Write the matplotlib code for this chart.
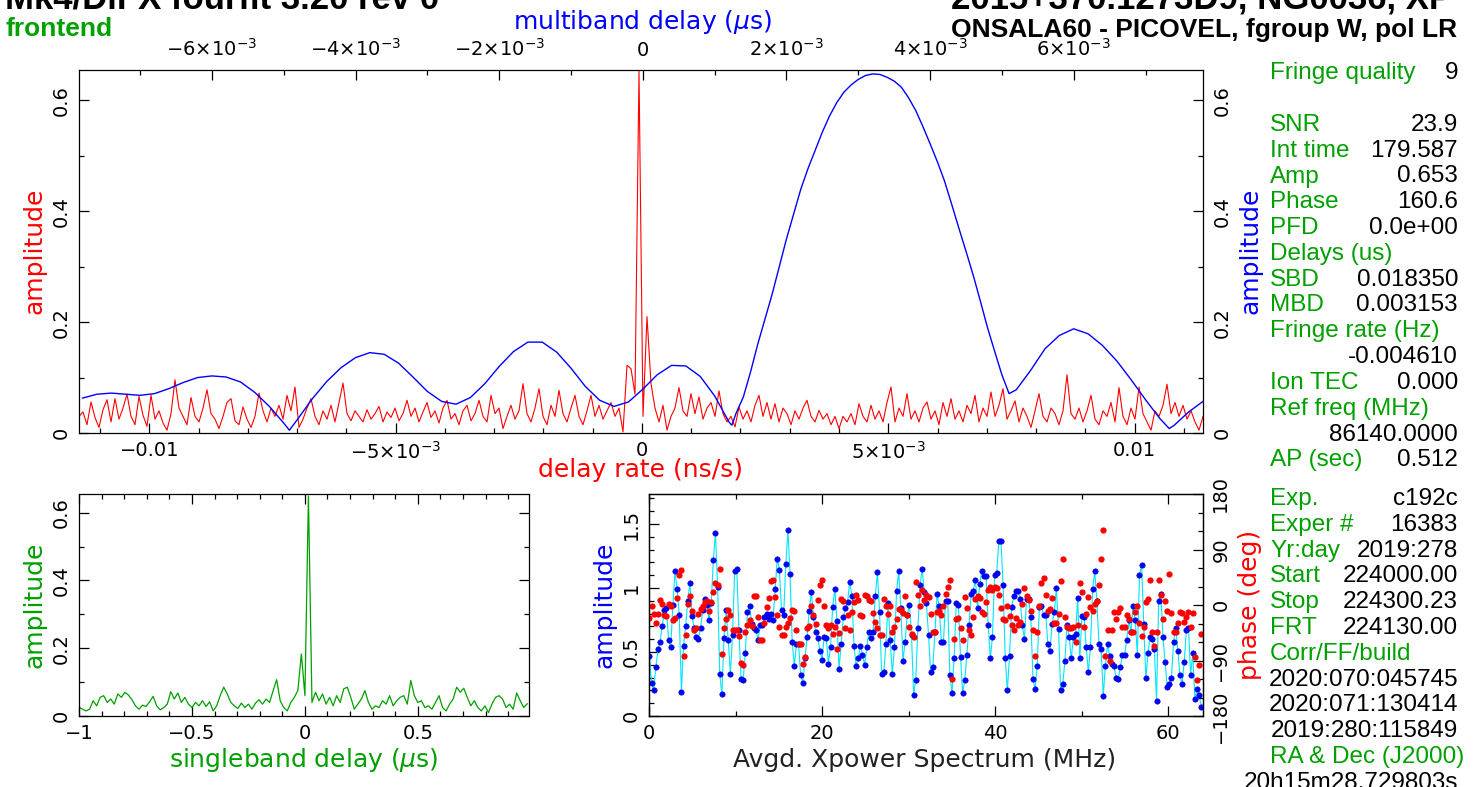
import numpy as np
import matplotlib
matplotlib.use('Agg')
import matplotlib.pyplot as plt
from matplotlib.ticker import MultipleLocator

W, H = 1478, 787
GREEN = '#00a000'
MINUS = '\u2212'

# ---------------- data ----------------
# delay-rate spectrum (red), amplitude x 1000, evenly sampled over the axis
rate_lim = (-0.01143, 0.01139)
rate_amp_milli = [
    30, 38, 15, 56, 28, 10, 42, 60, 20, 62,
    25, 45, 70, 30, 15, 66, 32, 12, 68, 25,
    40, 18, 5, 35, 96, 45, 30, 15, 64, 30,
    20, 45, 78, 35, 25, 8, 30, 55, 62, 22,
    15, 47, 25, 10, 30, 72, 40, 20, 45, 30,
    50, 25, 68, 40, 83, 10, 25, 45, 62, 30,
    15, 40, 25, 50, 20, 55, 90, 35, 22, 40,
    30, 20, 42, 25, 35, 48, 20, 38, 28, 45,
    22, 35, 59, 30, 45, 20, 38, 55, 28, 40,
    18, 45, 59, 25, 35, 15, 40, 50, 22, 35,
    59, 30, 20, 68, 35, 45, 8, 30, 50, 25,
    40, 89, 35, 20, 45, 80, 30, 15, 50, 30,
    77, 35, 20, 45, 68, 30, 15, 40, 68, 30,
    50, 25, 40, 55, 30, 45, 2, 122, 116, 70,
    653, 30, 210, 89, 45, 20, 50, 5, 30, 45,
    82, 40, 30, 71, 35, 65, 25, 45, 55, 30,
    76, 35, 20, 30, 11, 47, 25, 40, 20, 50,
    68, 30, 55, 25, 53, 20, 45, 35, 15, 40,
    25, 45, 59, 30, 20, 41, 25, 35, 15, 30,
    8, 30, 20, 35, 15, 53, 30, 20, 50, 25,
    40, 20, 55, 83, 20, 45, 30, 71, 25, 40,
    20, 45, 56, 25, 40, 15, 55, 30, 62, 25,
    40, 20, 50, 35, 68, 20, 45, 30, 74, 30,
    50, 80, 25, 40, 58, 20, 45, 30, 10, 40,
    71, 30, 20, 45, 35, 15, 40, 105, 35, 25,
    45, 20, 40, 68, 25, 15, 40, 30, 55, 20,
    82, 30, 15, 45, 25, 83, 35, 20, 5, 40,
    30, 50, 88, 35, 55, 30, 50, 25, 40, 20,
    5, 30,
]

# multiband delay function (blue): delay in 1e-4 us, amplitude x 1000
mbd_lim = (-0.00785, 0.00780)
mbd_delay_e4 = [
    -78, -76, -74, -72, -70, -68, -66, -64, -62, -60,
    -58, -56, -54, -52, -50, -49.2, -48, -46, -44, -42,
    -40, -38, -36, -34, -32, -30, -28, -26, -24, -22,
    -20, -18, -16, -14, -12, -10, -8, -6, -4, -2,
    0, 2, 4, 6, 8, 10, 12, 12.4, 13, 14,
    15, 16, 17, 18, 19, 20, 21, 22, 23, 24,
    25, 26, 27, 28, 29, 30, 31, 32, 33, 34,
    35, 36, 37, 38, 39, 40, 41, 42, 43, 44,
    45, 46, 47, 48, 49, 50, 51, 52, 54, 56,
    58, 60, 62, 64, 66, 68, 70, 72, 73.3, 74,
    76, 78,
]
mbd_amp_milli = [
    63, 70, 72, 70, 68, 71, 80, 91, 100, 103,
    101, 92, 73, 48, 18, 5, 26, 62, 93, 118,
    136, 145, 142, 126, 101, 75, 57, 52, 64, 89,
    120, 147, 164, 164, 146, 117, 84, 59, 48, 56,
    79, 105, 122, 121, 102, 67, 20, 14, 36, 65,
    110, 160, 205, 250, 300, 350, 395, 440, 477, 510,
    543, 572, 596, 615, 628, 638, 645, 648, 647, 642,
    635, 624, 605, 582, 553, 522, 490, 455, 413, 370,
    328, 285, 238, 190, 147, 105, 71, 78, 113, 152,
    176, 188, 179, 158, 130, 96, 60, 26, 8, 14,
    38, 57,
]

# singleband delay function (green), amplitude x 1000, step 1/64 us from -1
sbd_amp_milli = [
    26, 20, 15, 20, 45, 30, 55, 60, 40, 50,
    35, 65, 55, 70, 62, 48, 30, 20, 32, 28,
    42, 58, 30, 18, 25, 35, 72, 50, 68, 40,
    55, 35, 25, 40, 30, 45, 28, 42, 15, 30,
    60, 85, 65, 40, 30, 22, 38, 25, 35, 20,
    38, 48, 35, 50, 40, 75, 107, 45, 25, 15,
    40, 55, 75, 183, 60, 649, 40, 70, 45, 65,
    35, 55, 30, 60, 40, 80, 85, 55, 20, 35,
    50, 75, 40, 20, 30, 25, 45, 35, 60, 30,
    45, 55, 60, 35, 105, 60, 40, 45, 25, 30,
    20, 40, 60, 25, 15, 35, 50, 85, 70, 82,
    55, 30, 45, 25, 15, 30, 10, 35, 55, 60,
    50, 25, 35, 20, 68, 45, 25, 36,
]

# averaged cross-power spectrum: amplitude (blue) and phase in deg (red)
xp_freq_range = (0.05, 63.8)
xp_amp = [
    0.465, 0.26, 0.20, 0.38, 0.52, 0.58, 0.70, 0.825, 0.84, 0.59,
    0.54, 0.865, 1.13, 0.99, 0.79, 0.19, 0.55, 0.70, 0.90, 1.04,
    0.78, 0.69, 0.62, 0.60, 0.69, 0.825, 0.91, 0.865, 0.75, 0.88,
    1.22, 1.43, 1.01, 0.33, 0.17, 0.61, 0.825, 0.59, 0.33, 0.63,
    1.13, 1.15, 0.67, 0.29, 0.28, 0.49, 0.81, 0.86, 0.72, 0.69,
    0.67, 0.595, 0.71, 0.71, 0.77, 0.80, 0.76, 0.80, 0.75, 0.995,
    1.23, 1.14, 0.825, 0.79, 1.185, 1.45, 1.11, 0.58, 0.39, 0.56,
    0.56, 0.32, 0.26, 0.45, 0.62, 0.82, 0.97, 0.77, 0.66, 0.61,
    0.51, 0.44, 0.62, 0.61, 0.41, 0.54, 0.85, 0.995, 0.74, 0.37,
    0.56, 0.77, 0.84, 0.89, 1.05, 0.94, 0.55, 0.39, 0.45, 0.55,
    0.48, 0.40, 0.54, 0.66, 0.61, 0.66, 0.935, 1.125, 0.81, 0.33,
    0.34, 0.56, 0.88, 0.59, 0.33, 0.54, 0.98, 1.13, 0.84, 0.43,
    0.58, 0.79, 0.87, 0.63, 0.167, 0.285, 0.69, 1.02, 1.15,
    0.97, 0.88, 0.63, 0.34, 0.38, 0.655, 0.95, 0.86, 0.58, 0.58,
    0.90, 0.90, 0.32, 0.18, 0.45, 0.88, 0.87, 0.46, 0.18, 0.28,
    0.48, 0.71, 0.955, 0.98, 1.065, 0.84, 1.03, 1.13, 1.09, 1.09,
    0.71, 0.45, 0.62, 1.10, 1.12, 1.37, 1.37, 1.02, 0.45, 0.20,
    0.47, 0.85, 0.94, 0.98, 0.98, 0.91, 0.71, 0.60, 0.91, 0.91,
    0.77, 0.29, 0.21, 0.39, 0.85, 0.86, 0.79, 0.79, 0.56, 0.51,
    0.72, 0.81, 1.0, 0.68, 0.20, 0.25, 0.43, 0.71, 0.62, 0.45,
    0.62, 0.64, 0.92, 0.45, 0.78, 0.77, 0.54, 0.34, 0.54, 0.99,
    1.13, 0.90, 0.56, 0.52, 0.16, 0.39, 0.56, 0.47, 0.41, 0.39,
    0.30, 0.29, 0.38, 0.48, 0.48, 0.59, 0.75, 0.66, 0.86, 0.75,
    0.48, 1.10, 1.18, 0.72, 0.295, 0.49, 0.62, 0.60, 0.52, 0.12,
    0.90, 0.95, 0.62, 0.42, 0.23, 0.25, 0.30, 0.58, 0.69, 0.51,
    0.32, 0.25, 0.42, 0.67, 0.69, 0.32, 0.49, 0.13, 0.21, 0.167,
    0.07,
]
xp_phase = [
    -21, -2, -15, -29, -15, 8, 1, -17, -18, 2,
    -1, -25, -21, 11, 48, 57, -82, -48, 2, 14,
    -10, -41, -38, -14, -6, -1, 5, 6, -10, 5,
    21, 35, 33, 59, -79, -38, -22, -8, -17, -40,
    -40, -41, -50, -94, -98, -44, -32, -25, -34, 15,
    15, -20, -57, -57, -29, -3, 11, 39, 41, 13,
    -16, -35, -48, -48, -36, -29, -21, -8, -10, -40,
    -64, -64, -95, -85, -37, -34, -1, -17, -31, 8,
    33, 40, -2, -33, -38, -33, -47, -35, -71, -46,
    10, 6, -38, -17, -40, -11, 5, 17, 8, -17,
    -18, 17, 14, 8, 6, -13, -28, -37, -48, -48,
    10, -1, -14, -2, -44, -36, -22, -6, -8, -13,
    14, -17, -35, -47, -52, 37, 16, -1, 24,
    8, 17, 13, -14, -43, -44, -11, -10, -16, -1,
    18, 29, 41, -120, -55, -22, -21, -37, -56, 13,
    -5, -40, -48, -20, 9, 14, 12, -11, -15, 5,
    25, 29, 24, 29, 27, 16, -5, -22, -24, -1,
    -18, -33, -40, -21, -32, -28, 1, 27, 15, 8,
    -9, -41, -82, -44, -1, 35, 43, 17, -10, -6,
    11, -29, -29, -14, 39, 75, -20, -36, -37, -38,
    -36, -60, -32, 35, 21, -35, -14, 13, -3, -10,
    2, 6, 32, 75, 122, -82, -40, -90, -40, -11,
    -22, -11, -5, -35, -35, -17, -22, -44, -44, -12,
    -1, -29, -50, -36, 5, 9, 40, -44, -67, -44,
    40, 16, -22, 6, -10, 51, -13, -44, -44, -29,
    -11, -13, -28, -20, -11, -35, -13, -85, -122, -98,
    -47,
]

# fringe summary panel
info_rows = [
    ("Fringe quality", "9"), None,
    ("SNR", "23.9"), ("Int time", "179.587"), ("Amp", "0.653"),
    ("Phase", "160.6"), ("PFD", "0.0e+00"), ("Delays (us)", ""),
    ("SBD", "0.018350"), ("MBD", "0.003153"), ("Fringe rate (Hz)", ""),
    ("", "-0.004610"), ("Ion TEC", "0.000"), ("Ref freq (MHz)", ""),
    ("", "86140.0000"), ("AP (sec)", "0.512"), "half",
    ("Exp.", "c192c"), ("Exper #", "16383"), ("Yr:day", "2019:278"),
    ("Start", "224000.00"), ("Stop", "224300.23"), ("FRT", "224130.00"),
    ("Corr/FF/build", ""), ("", "2020:070:045745"), ("", "2020:071:130414"),
    ("", "2019:280:115849"), ("RA & Dec (J2000)", ""), ("", "20h15m28.729803s"),
]


def fx(px):
    return px / W


def fy(py):
    return 1 - py / H


def rect(x0, y0, x1, y1):
    return [fx(x0), fy(y1), (x1 - x0) / W, (y1 - y0) / H]


def style_ticks(ax, **kw):
    ax.tick_params(which='both', direction='in', colors='black',
                   labelsize=14, width=0.9, **kw)
    ax.tick_params(which='major', length=7)
    ax.tick_params(which='minor', length=3.5)
    for s in ax.spines.values():
        s.set_linewidth(0.9)


plt.rcParams['font.family'] = 'DejaVu Sans'
plt.rcParams['mathtext.fontset'] = 'dejavusans'
fig = plt.figure(figsize=(W / 100, H / 100), dpi=100)

# ---------------- top panel: delay rate + multiband delay ----------------
top_rect = rect(79, 70, 1203, 433)
ax_rate = fig.add_axes(top_rect)
rate_x = np.linspace(rate_lim[0], rate_lim[1], len(rate_amp_milli))
ax_rate.plot(rate_x, np.array(rate_amp_milli) / 1000, color='#ff0000', lw=0.8)
ax_rate.set_xlim(*rate_lim)
ax_rate.set_ylim(0, 0.655)
ax_rate.set_xticks([-0.01, -0.005, 0, 0.005, 0.01],
                   [MINUS + '0.01', r'$-5{\times}10^{-3}$', '0',
                    r'$5{\times}10^{-3}$', '0.01'])
ax_rate.xaxis.set_minor_locator(MultipleLocator(0.001))
ax_rate.set_yticks([0, 0.2, 0.4, 0.6], ['0', '0.2', '0.4', '0.6'],
                   rotation=90, va='center')
ax_rate.yaxis.set_minor_locator(MultipleLocator(0.1))
style_ticks(ax_rate, top=False, right=False, pad=6)

ax_mbd = fig.add_axes(top_rect, frameon=False)
ax_mbd.plot(np.array(mbd_delay_e4) * 1e-4, np.array(mbd_amp_milli) / 1000,
            color='#0000ff', lw=1.0)
ax_mbd.set_xlim(*mbd_lim)
ax_mbd.set_ylim(0, 0.655)
ax_mbd.xaxis.tick_top()
ax_mbd.yaxis.tick_right()
ax_mbd.set_xticks([-0.006, -0.004, -0.002, 0, 0.002, 0.004, 0.006],
                  [r'$-6{\times}10^{-3}$', r'$-4{\times}10^{-3}$',
                   r'$-2{\times}10^{-3}$', '0', r'$2{\times}10^{-3}$',
                   r'$4{\times}10^{-3}$', r'$6{\times}10^{-3}$'])
ax_mbd.xaxis.set_minor_locator(MultipleLocator(0.001))
ax_mbd.set_yticks([0, 0.2, 0.4, 0.6], ['0', '0.2', '0.4', '0.6'],
                  rotation=90, va='center')
ax_mbd.yaxis.set_minor_locator(MultipleLocator(0.1))
style_ticks(ax_mbd, bottom=False, left=False, pad=7)

# ---------------- bottom left: singleband delay ----------------
ax_sbd = fig.add_axes(rect(79, 494, 529, 716))
sbd_x = np.arange(len(sbd_amp_milli)) / 64 - 1
ax_sbd.plot(sbd_x, np.array(sbd_amp_milli) / 1000, color=GREEN, lw=0.9)
ax_sbd.set_xlim(-1, 0.992)
ax_sbd.set_ylim(0, 0.655)
ax_sbd.set_xticks([-1, -0.5, 0, 0.5], [MINUS + '1', MINUS + '0.5', '0', '0.5'])
ax_sbd.xaxis.set_minor_locator(MultipleLocator(0.1))
ax_sbd.set_yticks([0, 0.2, 0.4, 0.6], ['0', '0.2', '0.4', '0.6'],
                  rotation=90, va='center')
ax_sbd.yaxis.set_minor_locator(MultipleLocator(0.1))
style_ticks(ax_sbd, top=True, right=True, pad=6)

# ---------------- bottom right: cross-power spectrum ----------------
ax_xp = fig.add_axes(rect(649, 494, 1203, 716))
xp_x = np.linspace(xp_freq_range[0], xp_freq_range[1], len(xp_amp))
ax_xp.plot(xp_x, xp_amp, color='#00e5ff', lw=0.8, zorder=2)
ax_xp.plot(xp_x, xp_amp, 'o', color='#0000ff', ms=3.9, mec='#0000cc',
           mew=0.4, zorder=3)
ax_xp.set_xlim(0, 64)
ax_xp.set_ylim(0, 1.734)
ax_xp.set_xticks([0, 20, 40, 60], ['0', '20', '40', '60'])
ax_xp.xaxis.set_minor_locator(MultipleLocator(10))
ax_xp.set_yticks([0, 0.5, 1, 1.5], ['0', '0.5', '1', '1.5'],
                 rotation=90, va='center')
ax_xp.yaxis.set_minor_locator(MultipleLocator(0.1))
style_ticks(ax_xp, top=True, right=False, pad=6)

ax_ph = ax_xp.twinx()
ax_ph.plot(xp_x, xp_phase, 'o', color='#ff0000', ms=4.5, mec='none')
ax_ph.set_ylim(-180, 180)
ax_ph.set_yticks([-180, -90, 0, 90, 180],
                 [MINUS + '180', MINUS + '90', '0', '90', '180'],
                 rotation=90, va='center')
ax_ph.yaxis.set_minor_locator(MultipleLocator(30))
style_ticks(ax_ph, pad=6)

# ---------------- axis titles ----------------
lab = dict(fontsize=18, ha='center', va='center')
fig.text(fx(643), fy(22), r'multiband delay ($\mu$s)', color='#0000ff', **lab)
fig.text(fx(641), fy(470), 'delay rate (ns/s)', color='#ff0000', **lab)
fig.text(fx(35), fy(251), 'amplitude', color='#ff0000', rotation=90, **lab)
fig.text(fx(1250), fy(251), 'amplitude', color='#0000ff', rotation=90, **lab)
fig.text(fx(35), fy(605), 'amplitude', color=GREEN, rotation=90, **lab)
fig.text(fx(304), fy(760), r'singleband delay ($\mu$s)', color=GREEN, **lab)
fig.text(fx(605), fy(605), 'amplitude', color='#0000ff', rotation=90, **lab)
fig.text(fx(1250), fy(605), 'phase (deg)', color='#ff0000', rotation=90, **lab)
fig.text(fx(925), fy(760), 'Avgd. Xpower Spectrum (MHz)', color='#222222', **lab)

# ---------------- header ----------------
head = dict(family='Liberation Sans', weight='bold', va='baseline')
fig.text(fx(5), fy(8.5), 'Mk4/DiFX fourfit 3.20 rev 0', fontsize=25,
         color='black', ha='left', **head)
fig.text(fx(1452), fy(8.5), '2015+370.1273D9, NG0036, XP', fontsize=25,
         color='black', ha='right', **head)
fig.text(fx(5), fy(36), 'frontend', fontsize=19, color=GREEN, ha='left', **head)
fig.text(fx(1457), fy(36.5), 'ONSALA60 - PICOVEL, fgroup W, pol LR',
         fontsize=19, color='black', ha='right', **head)

# ---------------- summary panel ----------------
slot = 0.0
for row in info_rows:
    if row is None:
        slot += 1
        continue
    if row == "half":
        slot += 0.5
        continue
    label, value = row
    yb = fy(79.3 + 25.8 * slot)
    if label:
        fig.text(fx(1270), yb, label, fontsize=17.5, color=GREEN,
                 family='Liberation Sans', ha='left', va='baseline')
    if value:
        fig.text(fx(1458), yb, value, fontsize=17.5, color='black',
                 family='Liberation Sans', ha='right', va='baseline')
    slot += 1

fig.savefig('out.png', dpi=100)
